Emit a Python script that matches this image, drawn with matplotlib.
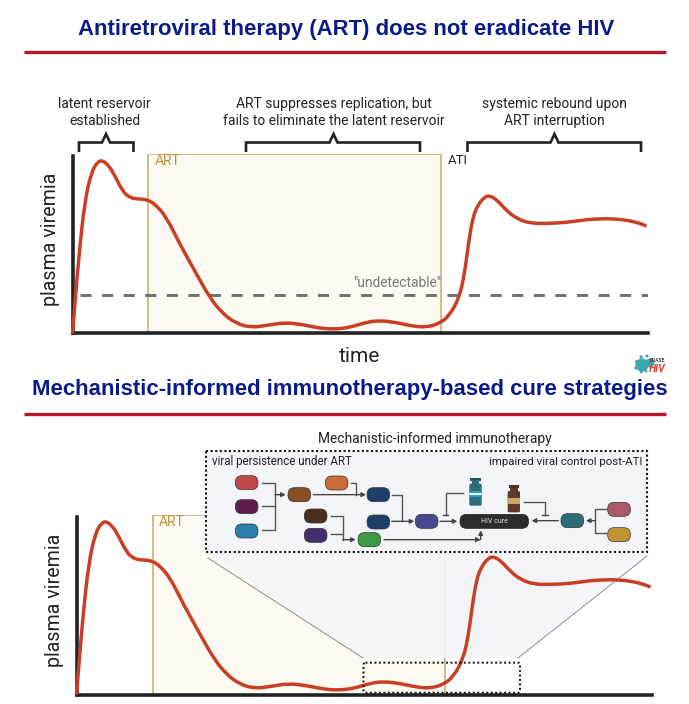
import matplotlib
matplotlib.use("Agg")
import matplotlib.pyplot as plt
from matplotlib.patches import FancyBboxPatch, Rectangle, Polygon, Circle, PathPatch
from matplotlib.path import Path

plt.rcParams['font.family'] = ['Roboto', 'DejaVu Sans']

# ---- data (arbitrary time / viremia units) ----
time = [0, 3.7, 7, 12, 18.7, 25.3, 30, 35, 40.3, 50.3, 57, 63.7, 73.7, 82, 93.7, 107, 123.7, 137, 150,
        163.7, 178.7, 193.7, 212, 230, 247, 262, 277, 294, 307, 324, 340, 354, 367, 377, 387,
        392, 396, 400, 405, 412, 417, 424, 434, 444, 457, 474, 494, 514, 534, 550, 564, 574]
viremia = [0, 46.3, 83, 130, 161.3, 172, 173, 169, 161.8, 141.8, 136.2, 134.5, 134.2, 130, 116.8, 90, 60,
           36.3, 20, 10, 6, 8, 11, 9, 5.3, 4.3, 6, 11.3, 13, 11, 7.3, 6.3, 10, 18, 36.3,
           60, 90, 115, 128, 136.5, 138, 134, 123, 115, 110.3, 110, 111, 114, 115, 114, 111.3, 107.5]
art_start_top, art_end_top = 75.5, 368
art_start_bot, art_end_bot = 76, 368
undetectable = 38

RED = '#c93f26'; INK = '#222326'; TAN = '#c9aa62'; CREAM = '#fdfaf3'; NAVY = '#0a1a86'; RULE = '#b5172b'
W, H = 689, 704

fig = plt.figure(figsize=(W / 100, H / 100), dpi=100, facecolor='white')
px = fig.add_axes([0, 0, 1, 1], zorder=1)
px.set_xlim(0, W); px.set_ylim(H, 0); px.axis('off')
top = fig.add_axes([0, 0, 1, 1], zorder=3)
top.set_xlim(0, W); top.set_ylim(H, 0); top.axis('off'); top.patch.set_alpha(0)


def panel(left, base):
    ax = fig.add_axes([left / W, 1 - base / H, 575 / W, 180 / H], zorder=2)
    ax.set_xlim(0, 575); ax.set_ylim(0, 180)
    ax.patch.set_alpha(0)
    ax.set_xticks([]); ax.set_yticks([])
    for s in ('top', 'right'):
        ax.spines[s].set_visible(False)
    for s in ('left', 'bottom'):
        ax.spines[s].set_linewidth(2.6); ax.spines[s].set_color(INK)
    ax.spines['left'].set_bounds(0, 178)
    ax.set_ylabel('plasma viremia', fontsize=14.1, color='#222', labelpad=0)
    ax.yaxis.set_label_coords(-0.022, 0.525)
    return ax


def smooth_curve(ax):
    """Draw the read points as a smooth quadratic Bezier path through the library's data transform."""
    pts = list(zip(time, viremia))
    verts = [pts[0]]; codes = [Path.MOVETO]
    for a, b in zip(pts[1:-1], pts[2:]):
        verts += [a, ((a[0] + b[0]) / 2, (a[1] + b[1]) / 2)]
        codes += [Path.CURVE3, Path.CURVE3]
    verts.append(pts[-1]); codes.append(Path.LINETO)
    ax.add_patch(PathPatch(Path(verts, codes), facecolor='none', edgecolor=RED, lw=2.5,
                           capstyle='butt', joinstyle='round', clip_on=False, zorder=5))


ax1 = panel(72.5, 333.5)
ax2 = panel(76.5, 694.5)

# ---- titles ----
px.text(346.5, 29, 'Antiretroviral therapy (ART) does not eradicate HIV', ha='center', va='center',
        fontsize=15.95, fontweight='bold', color=NAVY, family='Liberation Sans')
t = px.text(350, 390, 'Mechanistic-informed immunotherapy-based cure strategies', ha='center', va='center',
            fontsize=15.95, fontweight='bold', color=NAVY, family='Liberation Sans')
t.set_clip_path(Rectangle((0, 0), 667, H, transform=px.transData))
t.set_clip_on(True)
px.plot([24, 666], [51.5, 51.5], color=RULE, lw=2.4, solid_capstyle='butt')
px.plot([24, 666], [413.5, 413.5], color=RULE, lw=2.4, solid_capstyle='butt')

# ---- top panel ----
ax1.axvspan(art_start_top, art_end_top, facecolor=CREAM, edgecolor=TAN, lw=1.1, zorder=1)
ax1.plot([7, 575], [undetectable] * 2, color='#6f6f6f', lw=2.1, ls=(0, (3.8, 3.6)),
         dash_capstyle='butt', zorder=3)
smooth_curve(ax1)
ax1.text(art_start_top + 7, 172.5, 'ART', color='#b8923a', fontsize=10, va='center')
ax1.text(art_end_top + 0.5, 50.5, '"undetectable"', color='#777', fontsize=9.9, ha='right', va='center')
ax1.text(art_end_top + 7, 172.5, 'ATI', color='#222', fontsize=9.5, va='center')
px.text(360, 357, 'time', ha='center', va='center', fontsize=15, color='#222')

for lines, x in (('latent reservoir\nestablished', 104.5),
                 ('ART suppresses replication, but\nfails to eliminate the latent reservoir', 334),
                 ('systemic rebound upon\nART interruption', 554)):
    px.text(x, 112.5, lines, ha='center', va='center', fontsize=10, color='#222', linespacing=1.25)

for l, r, c in ((79, 133.5, 106), (246, 420, 333.5), (467.5, 641, 554.5)):
    px.plot([l, l, c - 4, c, c + 4, r, r], [152, 142.5, 142.5, 134, 142.5, 142.5, 152],
            color=INK, lw=1.9, solid_joinstyle='miter', solid_capstyle='butt')

# logo
for dx, dy, s in ((642, 365, 6.5), (650, 363, 4.5), (637, 362, 2), (641, 357, 1.6), (647, 356, 1.5),
                  (636, 368, 1.6), (641, 372, 1.5), (646, 371, 1.5)):
    px.add_patch(Circle((dx, dy), s, color='#37a7ad', lw=0))
l1 = px.text(650, 361, 'ERASE', fontsize=3.6, fontweight='bold', color='#444', va='center')
h = px.text(649, 369.5, 'HIV', fontsize=7.5, fontweight='bold', style='italic', color='#e8402a', va='center')
for tx in (l1, h):
    tx.set_clip_path(Rectangle((0, 0), 666, H, transform=px.transData))

# ---- bottom panel ----
ax2.axvspan(art_start_bot, art_end_bot, facecolor=CREAM, edgecolor=TAN, lw=1.1, zorder=1)
ax2.add_patch(Polygon([(208, 553), (647, 553), (518, 658), (363, 658)], closed=True, facecolor='#f4f5f8',
                      edgecolor='none', alpha=0.93, transform=px.transData, clip_on=False, zorder=1.5))
ax2.plot([208, 363], [558, 658], color='#8a8a8a', lw=0.7, transform=px.transData, clip_on=False, zorder=1.6)
ax2.plot([647, 518], [556, 658], color='#8a8a8a', lw=0.7, transform=px.transData, clip_on=False, zorder=1.6)
smooth_curve(ax2)
ax2.text(art_start_bot + 6, 172, 'ART', color='#b8923a', fontsize=10, va='center')

# ---- schematic (coordinates in px; z() maps from crop space) ----
zx = lambda v: 200 + v / 3
zy = lambda v: 425 + v / 3
top.add_patch(Rectangle((206, 451), 440.7, 101.3, facecolor='#f3f4f7', edgecolor='#111', lw=1.5,
                        ls=(0, (1, 1.2)), zorder=2))
top.add_patch(FancyBboxPatch((363.5, 662.7), 156.5, 30, boxstyle='round,pad=0,rounding_size=2',
                             facecolor='none', edgecolor='#111', lw=1.4, ls=(0, (1, 1.3)), zorder=2))
top.text(434.5, 439, 'Mechanistic-informed immunotherapy', ha='center', va='center', fontsize=9.95, color='#222')
top.text(212, 461, 'viral persistence under ART', ha='left', va='center', fontsize=8.3, color='#222', zorder=3)
top.text(642, 462, 'impaired viral control post-ATI', ha='right', va='center', fontsize=8.25, color='#222', zorder=3)

pills = [(140, 173, '#c0474a'), (140, 245, '#5e1f4f'), (140, 318, '#2a7fae'), (298, 209, '#8a4e24'),
         (410, 174, '#cc6b38'), (535, 209, '#1f3f6b'), (535, 291, '#1f3f6b'), (347, 273, '#4a2f1e'),
         (347, 331, '#43306b'), (508, 344, '#3c9a45'), (680, 289, '#444a8c'), (1117, 287, '#2c6e75'),
         (1257, 253, '#ab5a6b'), (1257, 329, '#c39232')]
for cx, cy, col in pills:
    top.add_patch(FancyBboxPatch((zx(cx) - 11.3, zy(cy) - 7), 22.6, 14, boxstyle='round,pad=0,rounding_size=6.5',
                                 facecolor=col, edgecolor='#333', lw=0.5, zorder=4))
top.add_patch(FancyBboxPatch((zx(780), zy(268)), 68.5, 14, boxstyle='round,pad=0,rounding_size=6.5',
                             facecolor='#2b2c30', edgecolor='#222', lw=0.5, zorder=4))
top.text(zx(882), zy(289.5), 'HIV cure', ha='center', va='center', fontsize=5, color='#ddd', zorder=5)

wires = [[(185, 173), (225, 173), (225, 316), (185, 316)], [(185, 243), (225, 243)],
         [(452, 173), (467, 173), (467, 209)], [(575, 209), (605, 209), (605, 289)],
         [(392, 272), (428, 272), (428, 344)], [(392, 328), (428, 328)],
         [(790, 203), (737, 203), (737, 270)], [(973, 230), (1035, 230), (1035, 270)],
         [(1218, 253), (1185, 253), (1185, 325), (1218, 325)]]
for w in wires:
    top.plot([zx(a) for a, _ in w], [zy(b) for _, b in w], color='#555', lw=1.0, zorder=3,
             solid_joinstyle='miter')
arrows = [((225, 209), (257, 209)), ((340, 209), (498, 209)), ((575, 289), (643, 289)), ((720, 289), (772, 289)),
          ((428, 344), (467, 344)), ((552, 344), (842, 344)), ((842, 344), (842, 316)), ((1075, 287), (995, 287)),
          ((1185, 287), (1158, 287))]
for a, b in arrows:
    top.annotate('', xy=(zx(b[0]), zy(b[1])), xytext=(zx(a[0]), zy(a[1])), zorder=3,
                 arrowprops=dict(arrowstyle='-|>,head_length=0.25,head_width=0.13', color='#444', lw=1.0,
                                 shrinkA=0, shrinkB=0))
for c in (737, 1035):
    top.plot([zx(c - 8), zx(c + 8)], [zy(270), zy(270)], color='#444', lw=1.0, zorder=3)


def vial(x0, x1, y0, y1, ly0, ly1, body, cap, label, band=None):
    mid = (x0 + x1) / 2
    top.add_patch(Rectangle((zx(mid - 16), zy(y0)), 32 / 3, 3, facecolor=cap, lw=0, zorder=4))
    top.add_patch(Rectangle((zx(mid - 11), zy(y0 + 8)), 22 / 3, 4, facecolor=body, lw=0, zorder=4))
    top.add_patch(FancyBboxPatch((zx(x0), zy(y0 + 18)), (x1 - x0) / 3, (y1 - y0 - 18) / 3,
                                 boxstyle='round,pad=0,rounding_size=1.5', facecolor=body, lw=0, zorder=4))
    top.add_patch(Rectangle((zx(x0), zy(ly0)), (x1 - x0) / 3, (ly1 - ly0) / 3, facecolor=label, lw=0, zorder=5))
    if band:
        top.add_patch(Rectangle((zx(x0), zy(ly0 + 6)), (x1 - x0) / 3, 2, facecolor=band, lw=0, zorder=6))


vial(808, 845, 158, 242, 197, 216, '#2c6e75', '#23565c', '#2aa0c8', '#e8f4f8')
vial(923, 960, 180, 262, 220, 237, '#5f3b2a', '#4d3022', '#c6a566')

fig.savefig('out.png', dpi=100)
